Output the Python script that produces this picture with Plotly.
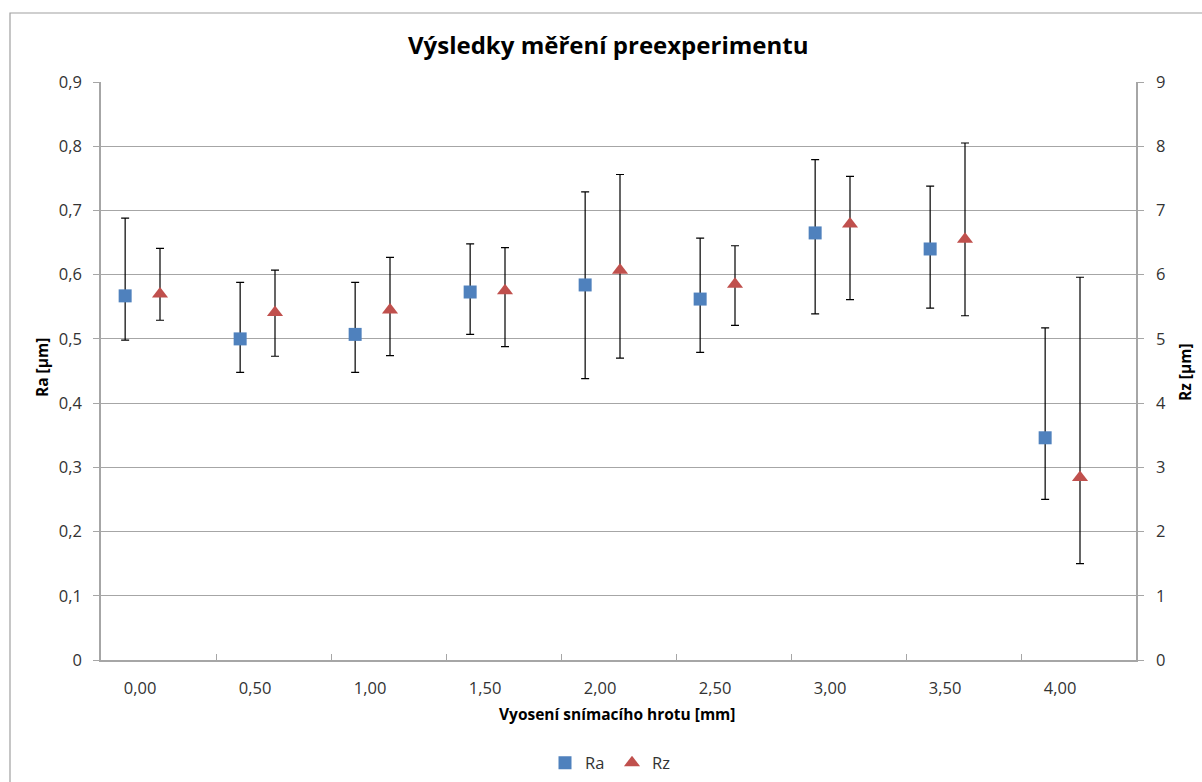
import plotly.graph_objects as go

# ---- data ----
categories = ["0,00", "0,50", "1,00", "1,50", "2,00", "2,50", "3,00", "3,50", "4,00"]
ra = [0.567, 0.500, 0.507, 0.573, 0.584, 0.562, 0.665, 0.640, 0.346]
ra_max = [0.688, 0.588, 0.588, 0.648, 0.729, 0.657, 0.779, 0.738, 0.517]
ra_min = [0.498, 0.448, 0.448, 0.507, 0.438, 0.479, 0.539, 0.548, 0.250]
rz = [5.70, 5.41, 5.45, 5.75, 6.07, 5.85, 6.79, 6.55, 2.84]
rz_max = [6.41, 6.07, 6.27, 6.42, 7.56, 6.45, 7.53, 8.05, 5.96]
rz_min = [5.29, 4.73, 4.74, 4.88, 4.70, 5.21, 5.61, 5.36, 1.50]
left_ticks = [0, 0.1, 0.2, 0.3, 0.4, 0.5, 0.6, 0.7, 0.8, 0.9]
left_tick_text = ["0", "0,1", "0,2", "0,3", "0,4", "0,5", "0,6", "0,7", "0,8", "0,9"]
right_ticks = [0, 1, 2, 3, 4, 5, 6, 7, 8, 9]

idx = list(range(len(categories)))
ra_x = [i - 0.29 for i in idx]
rz_x = [i + 0.013 for i in idx]
label_x = [i - 0.16 for i in idx]
boundaries = [i + 0.5 for i in idx[:-1]]

FONT = "Open Sans"
GRID = "#a6a6a6"
TXT = "#333333"
TICK = 16.5

fig = go.Figure()
fig.add_trace(go.Scatter(
    x=ra_x, y=ra, mode="markers", name="Ra",
    marker=dict(symbol="square", size=13, color="#4F81BD"),
    error_y=dict(type="data", symmetric=False,
                 array=[a - b for a, b in zip(ra_max, ra)],
                 arrayminus=[b - a for a, b in zip(ra_min, ra)],
                 color="black", thickness=1.2, width=4),
    yaxis="y",
))
fig.add_trace(go.Scatter(
    x=rz_x, y=rz, mode="markers", name="Rz",
    marker=dict(symbol="triangle-up", size=14, color="#C0504D"),
    error_y=dict(type="data", symmetric=False,
                 array=[a - b for a, b in zip(rz_max, rz)],
                 arrayminus=[b - a for a, b in zip(rz_min, rz)],
                 color="black", thickness=1.2, width=4),
    yaxis="y2",
))

fig.update_layout(
    width=1202, height=782,
    margin=dict(l=101, r=66, t=82, b=122, autoexpand=False),
    paper_bgcolor="white", plot_bgcolor="white",
    font=dict(family=FONT, size=TICK, color=TXT),
    showlegend=True,
    legend=dict(orientation="h", xref="container", x=(612 - 0) / 1202, xanchor="center",
                yref="container", y=1 - 763 / 782, yanchor="middle",
                font=dict(family=FONT, size=TICK, color=TXT),
                entrywidth=22, entrywidthmode="pixels",
                tracegroupgap=0, itemwidth=30),
    xaxis=dict(range=[-0.5, 8.5], tickmode="array", tickvals=label_x, ticktext=categories,
               ticks="", showgrid=False, zeroline=False,
               showline=True, linecolor=GRID, linewidth=1.5,
               ticklabelstandoff=12,
               tickfont=dict(family=FONT, size=TICK, color=TXT),
               minor=dict(tickmode="array", tickvals=boundaries, ticks="inside",
                          ticklen=6, tickcolor=GRID, tickwidth=1, showgrid=False)),
    yaxis=dict(range=[0, 0.9], tickmode="array", tickvals=left_ticks, ticktext=left_tick_text,
               ticks="outside", ticklen=6, tickcolor=GRID,
               showgrid=True, gridcolor=GRID, gridwidth=1.2, zeroline=False,
               showline=True, linecolor=GRID, linewidth=1.5,
               ticklabelstandoff=8,
               tickfont=dict(family=FONT, size=TICK, color=TXT)),
    yaxis2=dict(range=[0, 9], overlaying="y", side="right", tickmode="array",
                tickvals=right_ticks, ticks="outside", ticklen=6, tickcolor=GRID,
                showgrid=False, zeroline=False,
                showline=True, linecolor=GRID, linewidth=1.5,
                ticklabelstandoff=9,
                tickfont=dict(family=FONT, size=TICK, color=TXT)),
    annotations=[
        dict(text="<b>Výsledky měření preexperimentu</b>", xref="paper", yref="paper",
             x=(608 - 101) / 1035, y=1 + (82 - 44) / 578, xanchor="center", yanchor="middle",
             showarrow=False, font=dict(family=FONT, size=24, color="black")),
        dict(text="<b>Vyosení snímacího hrotu [mm]</b>", xref="paper", yref="paper",
             x=(617 - 101) / 1035, y=(660 - 714) / 578, xanchor="center", yanchor="middle",
             showarrow=False, font=dict(family=FONT, size=15.5, color="black")),
        dict(text="<b>Ra [µm]</b>", xref="paper", yref="paper", textangle=-90,
             x=(42 - 101) / 1035, y=(660 - 368) / 578, xanchor="center", yanchor="middle",
             showarrow=False, font=dict(family=FONT, size=15.5, color="black")),
        dict(text="<b>Rz [µm]</b>", xref="paper", yref="paper", textangle=-90,
             x=(1185 - 101) / 1035, y=(660 - 372) / 578, xanchor="center", yanchor="middle",
             showarrow=False, font=dict(family=FONT, size=15.5, color="black")),
    ],
    shapes=[
        dict(type="rect", xref="paper", yref="paper",
             x0=(10 - 101) / 1035, x1=(1215 - 101) / 1035,
             y0=(660 - 795) / 578, y1=(660 - 13) / 578,
             line=dict(color="#a0a0a0", width=1.2), fillcolor="rgba(0,0,0,0)", layer="below"),
    ],
)

fig.write_html("out.html")
